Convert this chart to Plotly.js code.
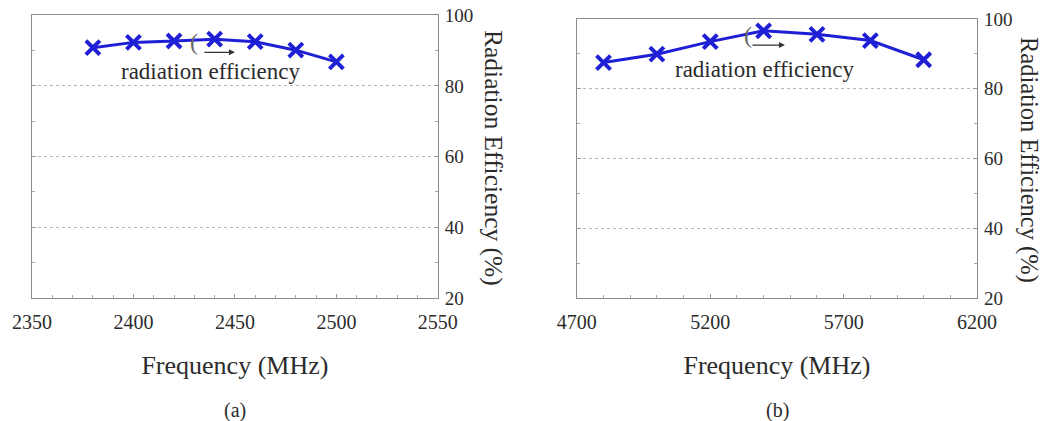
<!DOCTYPE html>
<html><head><meta charset="utf-8">
<script src="https://cdn.plot.ly/plotly-3.0.1.min.js"></script>
<style>html,body{margin:0;padding:0;background:#fff}#chart{width:1045px;height:421px}</style>
</head><body><div id="chart"></div>
<script>
const freqA = [2380, 2400, 2420, 2440, 2460, 2480, 2500];
const effA = [90.8, 92.3, 92.7, 93.2, 92.5, 90.1, 86.8];
const freqB = [4800, 5000, 5200, 5400, 5600, 5800, 6000];
const effB = [87.5, 89.9, 93.5, 96.6, 95.6, 93.8, 88.3];
const yTicks = [20, 40, 60, 80, 100];
const xTicksA = [2350, 2400, 2450, 2500, 2550];
const xTicksB = [4700, 5200, 5700, 6200];
const seriesLabel = 'radiation efficiency';
const xTitle = 'Frequency (MHz)';
const yTitle = 'Radiation Efficiency (%)';
const panelLabels = ['(a)', '(b)'];

const FONT = 'Liberation Serif';
const BLUE = '#1f1fd6';
const TXT = '#2b2b2b';

function trace(x, y, xa, ya) {
  return {
    x: x, y: y, xaxis: xa, yaxis: ya, type: 'scatter', mode: 'lines+markers',
    line: {color: BLUE, width: 3},
    marker: {symbol: 'x-thin', size: 14, line: {color: BLUE, width: 4}, color: BLUE},
    showlegend: false, hoverinfo: 'x+y'
  };
}

function xaxis(domain, range, ticks, minorDt, anchor) {
  return {
    domain: domain, range: range, anchor: anchor,
    tickvals: ticks, ticktext: ticks.map(String),
    ticks: 'inside', ticklen: 4, tickcolor: '#999', tickwidth: 1,
    minor: {dtick: minorDt, tick0: range[0], ticks: 'inside', ticklen: 3, tickcolor: '#aaa', showgrid: false},
    showline: true, linecolor: '#8c8c8c', linewidth: 1.2, mirror: true,
    showgrid: false, zeroline: false,
    tickfont: {family: FONT, size: 20, color: TXT},
    ticklabelstandoff: 6,
    title: {text: xTitle, font: {family: FONT, size: 26, color: TXT}, standoff: 23}
  };
}

function yaxis(domain, anchor) {
  return {
    domain: domain, range: [20, 100], anchor: anchor, side: 'right',
    tickvals: yTicks, ticktext: yTicks.map(String),
    ticks: 'inside', ticklen: 4, tickcolor: '#999',
    minor: {dtick: 10, tick0: 20, ticks: 'inside', ticklen: 3, tickcolor: '#aaa', showgrid: false},
    showline: true, linecolor: '#8c8c8c', linewidth: 1.2, mirror: 'allticks',
    showgrid: true, gridcolor: '#b5b5b5', griddash: 'dot', gridwidth: 1,
    zeroline: false,
    tickfont: {family: FONT, size: 19, color: TXT},
    ticklabelstandoff: 2
  };
}

const data = [trace(freqA, effA, 'x', 'y'), trace(freqB, effB, 'x2', 'y2')];

const layout = {
  width: 1045, height: 421,
  margin: {l: 0, r: 0, t: 0, b: 0},
  paper_bgcolor: '#fff', plot_bgcolor: '#fff',
  font: {family: FONT, color: TXT},
  xaxis: xaxis([0.0306, 0.419], [2350, 2550], xTicksA, 10, 'y'),
  yaxis: yaxis([0.292, 0.964], 'x'),
  xaxis2: xaxis([0.552, 0.935], [4700, 6200], xTicksB, 100, 'y2'),
  yaxis2: yaxis([0.292, 0.955], 'x2'),
  annotations: [
    {xref: 'x', yref: 'y', x: 2438, y: 84, text: seriesLabel, showarrow: false,
     xanchor: 'center', yanchor: 'middle', font: {family: FONT, size: 23, color: TXT}},
    {xref: 'x2', yref: 'y2', x: 5405, y: 85.4, text: seriesLabel, showarrow: false,
     xanchor: 'center', yanchor: 'middle', font: {family: FONT, size: 23, color: TXT}},
    {xref: 'x', yref: 'y', x: 2450, y: 89.5, ax: -32, ay: 0, axref: 'pixel', ayref: 'pixel',
     text: '', showarrow: true, arrowhead: 2, arrowsize: 1, arrowwidth: 1.2, arrowcolor: '#333'},
    {xref: 'x', yref: 'y', x: 2430, y: 92.5, text: '(', showarrow: false,
     font: {family: FONT, size: 24, color: '#666'}},
    {xref: 'x2', yref: 'y2', x: 5480, y: 92.5, ax: -34, ay: 0, axref: 'pixel', ayref: 'pixel',
     text: '', showarrow: true, arrowhead: 2, arrowsize: 1, arrowwidth: 1.2, arrowcolor: '#333'},
    {xref: 'x2', yref: 'y2', x: 5340, y: 95.5, text: '(', showarrow: false,
     font: {family: FONT, size: 24, color: '#666'}},
    {xref: 'paper', yref: 'paper', x: 493 / 1045, y: 1 - 158 / 421, text: yTitle, textangle: 90,
     xanchor: 'center', yanchor: 'middle', showarrow: false, font: {family: FONT, size: 25.5, color: TXT}},
    {xref: 'paper', yref: 'paper', x: 1029 / 1045, y: 1 - 160 / 421, text: yTitle, textangle: 90,
     xanchor: 'center', yanchor: 'middle', showarrow: false, font: {family: FONT, size: 24.5, color: TXT}},
    {xref: 'paper', yref: 'paper', x: 235 / 1045, y: 1 - 410 / 421, text: panelLabels[0],
     xanchor: 'center', yanchor: 'middle', showarrow: false, font: {family: FONT, size: 20, color: TXT}},
    {xref: 'paper', yref: 'paper', x: 777 / 1045, y: 1 - 410 / 421, text: panelLabels[1],
     xanchor: 'center', yanchor: 'middle', showarrow: false, font: {family: FONT, size: 20, color: TXT}}
  ]
};

Plotly.newPlot('chart', data, layout, {displayModeBar: false, staticPlot: true});
</script>
</body></html>
